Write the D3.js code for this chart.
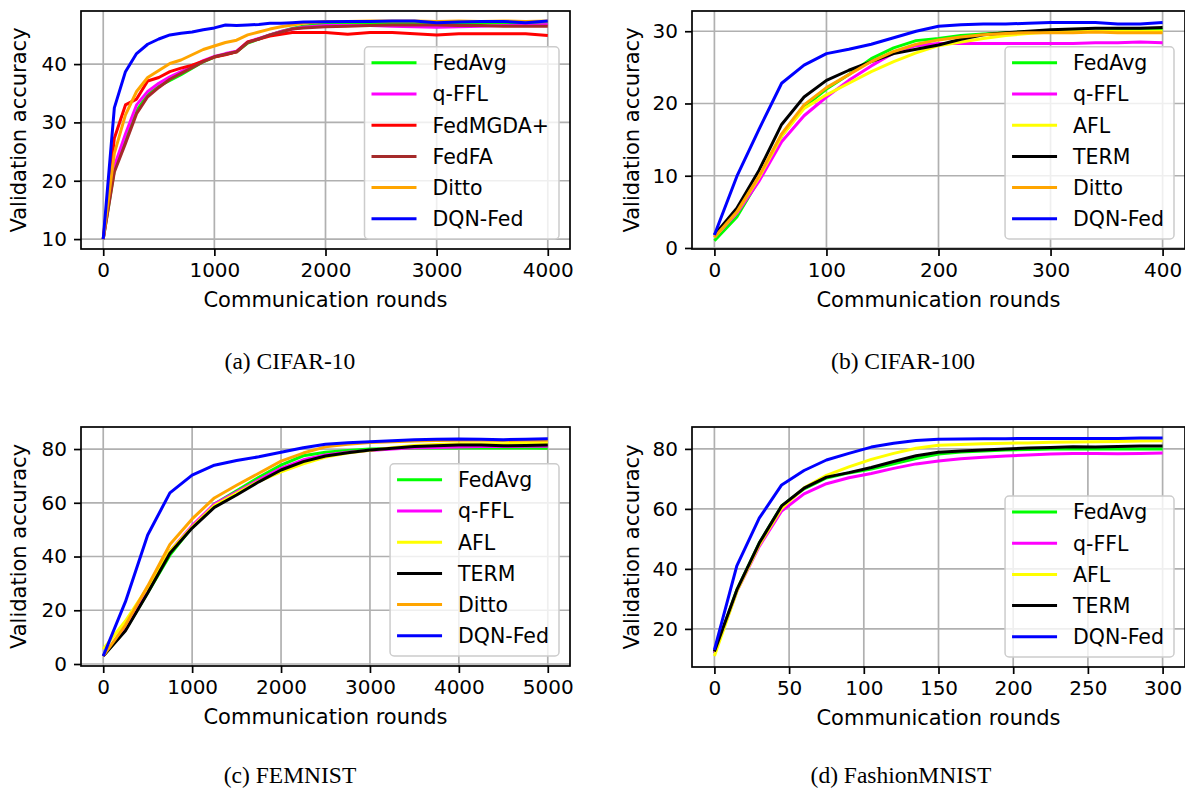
<!DOCTYPE html>
<html>
<head>
<meta charset="utf-8">
<script src="https://cdn.jsdelivr.net/npm/d3@7"></script>
<style>
  body { margin: 0; background: #fff; }
  svg { display: block; }
</style>
</head>
<body>
<svg id="fig" width="1185" height="788"></svg>
<script>
// ---- data ----

// (a) CIFAR-10
const roundsA = [0,100,200,300,400,500,600,700,800,900,1000,1100,1200,1300,1400,1500,1600,1700,1800,2000,2200,2400,2600,2800,3000,3200,3400,3600,3800,4000]
const fedavgA = [10,21.8,27,32,34.8,36.2,37.2,38.2,39.3,40.4,41.2,41.7,42.1,43.6,44.3,45.0,45.6,46.1,46.5,46.9,47.0,47.0,47.1,47.0,46.9,47.0,47.1,47.1,47.0,46.9]
const qfflA = [10,22.5,28,33,35.3,36.7,37.8,38.7,39.6,40.6,41.3,41.8,42.2,43.8,44.4,45.0,45.6,46.0,46.3,46.6,46.6,46.6,46.5,46.4,46.3,46.4,46.5,46.6,46.6,46.8]
const fedmgdaA = [10,27.3,33.0,34.0,37.1,37.7,38.7,39.3,39.8,40.5,41.2,41.6,42.1,43.8,44.3,44.8,45.1,45.4,45.4,45.4,45.1,45.4,45.4,45.2,45.0,45.2,45.2,45.2,45.2,44.9]
const fedfaA = [10,21.5,26.4,31.5,34.4,36.0,37.4,38.4,39.4,40.4,41.25,41.7,42.1,43.7,44.3,45.0,45.5,46.0,46.2,46.4,46.5,46.6,46.7,46.7,46.7,46.6,46.6,46.5,46.5,46.5]
const dittoA = [10,24.7,31.3,35.3,37.7,38.9,40.1,40.7,41.6,42.5,43.1,43.7,44.1,45.0,45.5,46.0,46.4,46.7,47.0,47.3,47.3,47.4,47.4,47.4,47.3,47.4,47.3,47.4,47.3,47.4]
const dqnA = [10,32.5,38.7,41.8,43.4,44.3,45.0,45.3,45.5,45.9,46.2,46.7,46.6,46.7,46.8,47.0,47.0,47.1,47.2,47.25,47.3,47.3,47.4,47.4,47.1,47.2,47.3,47.3,47.1,47.4]

// (b) CIFAR-100
const roundsB = [0,20,40,60,80,100,120,140,160,180,200,220,240,260,280,300,320,340,360,380,400]
const fedavgB = [1.0,4.3,9.5,15.5,19.5,22.0,24.0,26.2,27.7,28.7,29.0,29.4,29.6,29.8,29.9,30.0,30.0,30.0,30.1,30.1,30.2]
const qfflB = [1.5,4.8,9.3,14.7,18.3,20.9,23.2,25.2,27.0,28.0,28.3,28.3,28.3,28.3,28.3,28.3,28.3,28.4,28.4,28.5,28.4]
const aflB = [1.5,5.0,9.8,15.5,19.3,21.2,22.8,24.4,25.8,27.0,28.0,28.5,29.0,29.4,29.7,29.9,30.0,30.0,30.0,30.0,30.0]
const termB = [1.8,5.5,10.8,17.1,20.9,23.2,24.6,25.8,26.9,27.5,28.1,28.9,29.5,29.8,30.0,30.2,30.3,30.4,30.4,30.4,30.5]
const dittoB = [1.5,5.0,10.0,15.8,19.8,22.2,24.0,25.8,27.2,28.2,28.8,29.2,29.5,29.7,29.8,29.8,29.8,29.9,29.8,29.8,29.8]
const dqnB = [1.8,9.9,16.5,22.8,25.3,26.9,27.5,28.2,29.1,30.0,30.7,30.9,31.0,31.0,31.1,31.2,31.2,31.2,31.0,31.0,31.2]

// (c) FEMNIST
const roundsC = [0,250,500,750,1000,1250,1500,1750,2000,2250,2500,2750,3000,3250,3500,3750,4000,4250,4500,4750,5000]
const fedavgC = [3.0,12.8,26.5,40.5,51.0,59.5,64.5,69.5,74.0,77.5,78.8,79.5,80.0,80.2,80.4,80.4,80.4,80.4,80.4,80.4,80.3]
const qfflC = [3.0,13.5,27.5,42.0,51.5,59.5,64.0,68.5,72.8,76.0,77.8,78.8,79.5,80.0,80.5,80.6,80.8,80.9,80.9,81.0,81.0]
const aflC = [5.5,16.0,28.5,42.0,51.0,59.0,63.5,68.0,71.5,74.5,77.0,78.5,79.5,80.5,81.3,81.7,82.0,82.0,82.0,82.2,82.3]
const termC = [3.0,12.4,26.4,41.2,50.6,58.3,62.9,67.8,72.2,75.3,77.4,78.6,79.6,80.3,80.9,81.2,81.5,81.5,81.2,81.3,81.5]
const dittoC = [3.0,14.5,29.0,44.5,54.0,61.8,66.5,71.0,75.5,78.5,80.8,81.8,82.4,82.7,83.0,83.2,83.3,83.3,83.2,83.3,83.3]
const dqnC = [3.0,23.2,48.0,63.7,70.3,74.0,75.7,77.1,78.8,80.5,81.8,82.3,82.7,83.1,83.5,83.6,83.7,83.6,83.5,83.6,83.8]

// (d) FashionMNIST
const roundsD = [0,15,30,45,60,75,90,105,120,135,150,165,180,195,210,225,240,255,270,285,300]
const fedavgD = [12.0,33.0,48.6,61.0,66.7,70.3,72.0,73.3,75.0,76.8,78.3,79.0,79.3,79.6,79.8,80.0,80.0,80.0,80.0,80.0,80.0]
const qfflD = [12.0,32.5,47.5,59.3,65.0,68.4,70.4,71.8,73.5,75.0,76.0,76.7,77.2,77.6,78.0,78.3,78.5,78.5,78.4,78.5,78.6]
const aflD = [11.0,32.5,48.0,60.2,67.0,71.2,74.0,76.5,78.5,80.2,81.2,81.5,81.7,81.9,82.0,82.2,82.3,82.4,82.5,82.6,82.7]
const termD = [12.5,33.0,48.6,61.0,66.9,70.6,72.1,73.8,75.8,77.7,78.9,79.3,79.6,80.0,80.3,80.5,80.7,80.6,80.8,81.0,81.0]
const dqnD = [13.0,41.0,56.9,68.0,72.8,76.3,78.5,80.6,81.9,82.8,83.2,83.3,83.4,83.4,83.5,83.5,83.5,83.5,83.5,83.6,83.6]

const colors = {
  'FedAvg': '#00ff00', 'q-FFL': '#ff00ff', 'FedMGDA+': '#ff0000', 'FedFA': '#a52a2a',
  'AFL': '#ffff00', 'TERM': '#000000', 'Ditto': '#ffa500', 'DQN-Fed': '#0000ff'
}

const svg = d3.select('#fig')
const SANS = 'DejaVu Sans'

function drawPanel(p) {
  const x = d3.scaleLinear().domain(p.xDomain).range([p.box[0], p.box[1]])
  const y = d3.scaleLinear().domain(p.yDomain).range([p.box[3], p.box[2]])
  const g = svg.append('g')
  const clipId = 'clip-' + p.id
  g.append('clipPath').attr('id', clipId).append('rect')
    .attr('x', p.box[0]).attr('y', p.box[2])
    .attr('width', p.box[1] - p.box[0]).attr('height', p.box[3] - p.box[2])

  // grid
  g.selectAll('.gx').data(p.xTicks).enter().append('line')
    .attr('x1', d => x(d)).attr('x2', d => x(d))
    .attr('y1', p.box[2]).attr('y2', p.box[3])
    .attr('stroke', '#b0b0b0').attr('stroke-width', 1.7)
  g.selectAll('.gy').data(p.yTicks).enter().append('line')
    .attr('x1', p.box[0]).attr('x2', p.box[1])
    .attr('y1', d => y(d)).attr('y2', d => y(d))
    .attr('stroke', '#b0b0b0').attr('stroke-width', 1.7)

  // curves
  const line = d3.line().x(d => x(d[0])).y(d => y(d[1]))
  const lg = g.append('g').attr('clip-path', `url(#${clipId})`)
  p.series.forEach(s => {
    lg.append('path')
      .datum(p.rounds.map((r, i) => [r, s.values[i]]))
      .attr('d', line)
      .attr('fill', 'none')
      .attr('stroke', colors[s.name])
      .attr('stroke-width', 3)
      .attr('stroke-linejoin', 'round')
  })

  // axes
  const fmt = d3.format('d')
  const xAxis = g.append('g')
    .attr('transform', `translate(0,${p.box[3]})`)
    .call(d3.axisBottom(x).tickValues(p.xTicks).tickFormat(fmt).tickSize(7).tickPadding(7).tickSizeOuter(0))
  const yAxis = g.append('g')
    .attr('transform', `translate(${p.box[0]},0)`)
    .call(d3.axisLeft(y).tickValues(p.yTicks).tickFormat(fmt).tickSize(7).tickPadding(7).tickSizeOuter(0))
  ;[xAxis, yAxis].forEach(a => {
    a.select('.domain').remove()
    a.selectAll('.tick line').attr('stroke', '#000').attr('stroke-width', 1.7)
    a.selectAll('.tick text').attr('font-family', SANS).attr('font-size', 20).attr('fill', '#000')
  })

  // frame
  g.append('rect')
    .attr('x', p.box[0]).attr('y', p.box[2])
    .attr('width', p.box[1] - p.box[0]).attr('height', p.box[3] - p.box[2])
    .attr('fill', 'none').attr('stroke', '#000').attr('stroke-width', 1.7)

  // axis labels
  g.append('text')
    .attr('x', (p.box[0] + p.box[1]) / 2).attr('y', p.box[3] + 58)
    .attr('text-anchor', 'middle').attr('font-family', SANS).attr('font-size', 21)
    .text('Communication rounds')
  g.append('text')
    .attr('transform', `translate(${p.ylabelX},${(p.box[2] + p.box[3]) / 2}) rotate(-90)`)
    .attr('text-anchor', 'middle').attr('dy', '0.35em')
    .attr('font-family', SANS).attr('font-size', 21)
    .text('Validation accuracy')

  // legend
  const leg = g.append('g')
  const rowH = 31.2
  const n = p.series.length
  const bottom = p.box[3] - 10
  const top = bottom - (n * rowH + 5)
  const bg = leg.append('rect')
  const texts = []
  p.series.forEach((s, i) => {
    const cy = top + 16 + i * rowH
    leg.append('line').attr('class', 'lgl')
      .attr('y1', cy).attr('y2', cy)
      .attr('stroke', colors[s.name]).attr('stroke-width', 3)
    texts.push(leg.append('text')
      .attr('y', cy).attr('dy', '0.36em')
      .attr('font-family', SANS).attr('font-size', 20.5)
      .text(s.name))
  })
  const maxW = d3.max(texts, t => t.node().getComputedTextLength())
  const right = p.box[1] - 11
  const left = right - (7 + 45 + 16 + maxW + 10)
  bg.attr('x', left).attr('y', top).attr('width', right - left).attr('height', bottom - top)
    .attr('rx', 4).attr('fill', '#fff').attr('fill-opacity', 0.8)
    .attr('stroke', '#cccccc').attr('stroke-width', 1.5)
  leg.selectAll('.lgl').attr('x1', left + 7).attr('x2', left + 52)
  texts.forEach(t => t.attr('x', left + 68))

  // caption
  svg.append('text')
    .attr('x', p.captionX).attr('y', p.captionY)
    .attr('text-anchor', 'middle')
    .attr('font-family', 'Liberation Serif').attr('font-size', 23.5)
    .text(p.caption)
}

drawPanel({
  id: 'a', box: [81, 570, 11, 249], xDomain: [-200, 4200], yDomain: [8.3, 49.1],
  xTicks: [0, 1000, 2000, 3000, 4000], yTicks: [10, 20, 30, 40],
  rounds: roundsA, ylabelX: 19, caption: '(a) CIFAR-10', captionX: 290, captionY: 369,
  series: [
    {name: 'FedAvg', values: fedavgA}, {name: 'q-FFL', values: qfflA},
    {name: 'FedMGDA+', values: fedmgdaA}, {name: 'FedFA', values: fedfaA},
    {name: 'Ditto', values: dittoA}, {name: 'DQN-Fed', values: dqnA}
  ]
})
drawPanel({
  id: 'b', box: [692, 1185, 11, 249], xDomain: [-20, 420], yDomain: [-0.14, 32.8],
  xTicks: [0, 100, 200, 300, 400], yTicks: [0, 10, 20, 30],
  rounds: roundsB, ylabelX: 632, caption: '(b) CIFAR-100', captionX: 903, captionY: 369,
  series: [
    {name: 'FedAvg', values: fedavgB}, {name: 'q-FFL', values: qfflB},
    {name: 'AFL', values: aflB}, {name: 'TERM', values: termB},
    {name: 'Ditto', values: dittoB}, {name: 'DQN-Fed', values: dqnB}
  ]
})
drawPanel({
  id: 'c', box: [81, 570, 427, 666], xDomain: [-250, 5250], yDomain: [-0.74, 88.2],
  xTicks: [0, 1000, 2000, 3000, 4000, 5000], yTicks: [0, 20, 40, 60, 80],
  rounds: roundsC, ylabelX: 19, caption: '(c) FEMNIST', captionX: 290, captionY: 783,
  series: [
    {name: 'FedAvg', values: fedavgC}, {name: 'q-FFL', values: qfflC},
    {name: 'AFL', values: aflC}, {name: 'TERM', values: termC},
    {name: 'Ditto', values: dittoC}, {name: 'DQN-Fed', values: dqnC}
  ]
})
drawPanel({
  id: 'd', box: [692, 1185, 427, 667], xDomain: [-15, 315], yDomain: [7.3, 87.3],
  xTicks: [0, 50, 100, 150, 200, 250, 300], yTicks: [20, 40, 60, 80],
  rounds: roundsD, ylabelX: 632, caption: '(d) FashionMNIST', captionX: 901, captionY: 783,
  series: [
    {name: 'FedAvg', values: fedavgD}, {name: 'q-FFL', values: qfflD},
    {name: 'AFL', values: aflD}, {name: 'TERM', values: termD},
    {name: 'DQN-Fed', values: dqnD}
  ]
})
</script>
</body>
</html>
